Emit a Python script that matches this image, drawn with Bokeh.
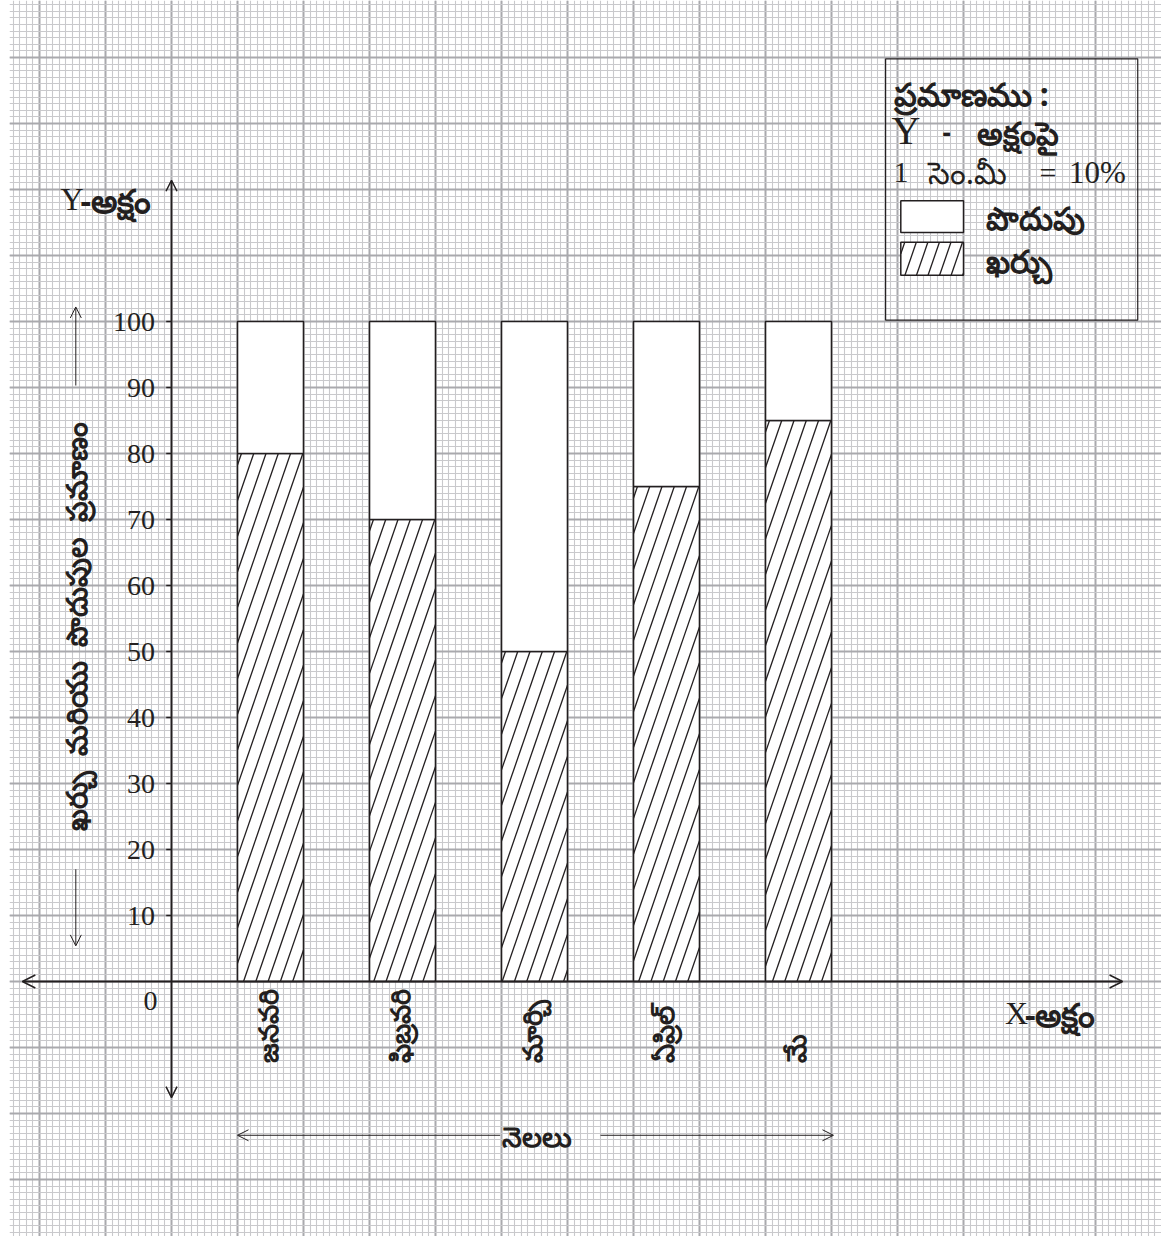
import numpy as np
from bokeh.plotting import figure
from bokeh.models import Range1d, Grid, SingleIntervalTicker, Arrow, OpenHead, ColumnDataSource
from bokeh.core.properties import value
from bokeh.embed import file_html
from bokeh.resources import INLINE

# ---------------- data ----------------
months = ["జనవరి", "ఫిబ్రవరి", "మార్చి", "ఏప్రిల్", "మే"]
expense = [80, 70, 50, 75, 85]      # ఖర్చు (hatched)
savings = [20, 30, 50, 25, 15]      # పొదుపు (white)
y_ticks = [10, 20, 30, 40, 50, 60, 70, 80, 90, 100]
y_title = "ఖర్చు\u2002మరియు\u2002పొదుపుల\u2002ప్రమాణం"
x_title = "నెలలు"
legend_head = "ప్రమాణము :"
legend_axis = "అక్షంపై"
legend_scale = "సెం.మీ"
legend_items = ["పొదుపు", "ఖర్చు"]

INK = "#231f20"
TEL = "Noto Sans"
SERIF = "Liberation Serif"

PX = 6.6                      # pixels per unit (1 mm of graph paper)
LEFT = 9
W, H = 1161, 1236
OX, OY = 171 - LEFT, 981      # origin position inside the frame (px)
xs = -OX / PX
xe = xs + (W - LEFT) / PX
ye = OY / PX
ys = ye - H / PX

p = figure(width=W, height=H, x_range=Range1d(xs, xe), y_range=Range1d(ys, ye),
           output_backend="svg", toolbar_location=None, min_border=0,
           x_axis_type=None, y_axis_type=None)
p.min_border_left = LEFT
p.background_fill_color = "white"
p.border_fill_color = "white"
p.outline_line_color = None

# graph paper
for dim in (0, 1):
    g = Grid(dimension=dim, ticker=SingleIntervalTicker(interval=10, num_minor_ticks=10),
             grid_line_color="#a9a9ad", grid_line_width=2,
             minor_grid_line_color="#c9c9cc", minor_grid_line_width=1.1)
    p.add_layout(g)


def hatch(x0, x1, y0, y1, s=2.9, d=1.86):
    a, b, c_, e = [], [], [], []
    h = y1 - y0
    start = x0 - h / s + 0.6
    for c in np.arange(start, x1, d):
        ya = max(y0, y0 + (x0 - c) * s)
        yb = min(y1, y0 + (x1 - c) * s)
        if yb - ya > 0.05:
            a.append(c + (ya - y0) / s)
            b.append(ya)
            c_.append(c + (yb - y0) / s)
            e.append(yb)
    return a, b, c_, e


# bars
centers = [15 + 20 * i for i in range(len(months))]
src = ColumnDataSource(dict(x=centers, expense=expense, savings=savings))
p.vbar_stack(["expense", "savings"], x="x", width=10, source=src,
             fill_color="white", line_color=INK, line_width=1.6)

hx0, hy0, hx1, hy1 = [], [], [], []
for c, v in zip(centers, expense):
    a, b, cc, e = hatch(c - 5, c + 5, 0, v)
    hx0 += a; hy0 += b; hx1 += cc; hy1 += e

# axes
p.add_layout(Arrow(x_start=-22.6, y_start=0, x_end=144.1, y_end=0,
                   start=OpenHead(size=13, line_width=1.5, line_color=INK),
                   end=OpenHead(size=13, line_width=1.5, line_color=INK),
                   line_color=INK, line_width=1.8))
p.add_layout(Arrow(x_start=0, y_start=-17.6, x_end=0, y_end=121.4,
                   start=OpenHead(size=11, line_width=1.5, line_color=INK),
                   end=OpenHead(size=11, line_width=1.5, line_color=INK),
                   line_color=INK, line_width=1.8))

n = len(y_ticks)
p.segment(x0=[-0.8] * n, y0=y_ticks, x1=[0] * n, y1=y_ticks, line_color=INK, line_width=1.5)
p.text(x=[-2.5] * n, y=y_ticks, text=[str(t) for t in y_ticks], text_align="right",
       text_baseline="middle", text_font=value(SERIF), text_font_size="28px", text_color=INK)
p.text(x=[-3.2], y=[-3.0], text=["0"], text_align="center", text_baseline="middle",
       text_font=value(SERIF), text_font_size="28px", text_color=INK)

# axis names
p.text(x=[-16.8], y=[118.6], text=["Y"], text_align="left", text_baseline="middle",
       text_font=value(SERIF), text_font_size="32px", text_color=INK)
p.text(x=[-13.8], y=[118.4], text=["-అక్షం"], text_align="left", text_baseline="middle",
       text_font=value(TEL), text_font_style="bold", text_font_size="33px", text_color=INK)
p.text(x=[126.3], y=[-4.8], text=["X"], text_align="left", text_baseline="middle",
       text_font=value(SERIF), text_font_size="32px", text_color=INK)
p.text(x=[129.3], y=[-5.0], text=["-అక్షం"], text_align="left", text_baseline="middle",
       text_font=value(TEL), text_font_style="bold", text_font_size="33px", text_color=INK)

# month labels (rotated)
p.text(x=[c - 0.4 for c in centers], y=[-12.3] * len(months), text=months, angle=np.pi / 2,
       text_align="left", text_baseline="middle", text_font=value(TEL),
       text_font_style="bold", text_font_size="27px", text_color=INK)

# x title with arrows
p.text(x=[55.4], y=[-23.4], text=[x_title], text_align="center", text_baseline="middle",
       text_font=value(TEL), text_font_style="bold", text_font_size="28px", text_color=INK)
p.add_layout(Arrow(x_start=49.8, y_start=-23.3, x_end=10, y_end=-23.3,
                   end=OpenHead(size=11, line_width=1, line_color=INK),
                   line_color=INK, line_width=1))
p.add_layout(Arrow(x_start=65, y_start=-23.3, x_end=100.3, y_end=-23.3,
                   end=OpenHead(size=11, line_width=1, line_color=INK),
                   line_color=INK, line_width=1))

# y title with arrows
p.text(x=[-14.5], y=[53.8], text=[y_title], angle=np.pi / 2, text_align="center",
       text_baseline="middle", text_font=value(TEL), text_font_style="bold",
       text_font_size="29px", text_color=INK)
p.add_layout(Arrow(x_start=-14.5, y_start=90.3, x_end=-14.5, y_end=102.2,
                   end=OpenHead(size=11, line_width=1, line_color=INK),
                   line_color=INK, line_width=1))
p.add_layout(Arrow(x_start=-14.5, y_start=17.0, x_end=-14.5, y_end=5.4,
                   end=OpenHead(size=11, line_width=1, line_color=INK),
                   line_color=INK, line_width=1))

# legend box
p.quad(left=[108.2], right=[146.4], bottom=[100.2], top=[139.8], fill_color="white",
       fill_alpha=0.0, line_color=INK, line_width=1.2)
p.text(x=[109.4], y=[134.5], text=[legend_head], text_align="left", text_baseline="middle",
       text_font=value(TEL), text_font_style="bold", text_font_size="32px", text_color=INK)
p.text(x=[109.1], y=[128.9], text=["Y"], text_align="left", text_baseline="middle",
       text_font=value(SERIF), text_font_size="40px", text_color=INK)
p.text(x=[116.8], y=[128.6], text=["-"], text_align="left", text_baseline="middle",
       text_font=value(TEL), text_font_style="bold", text_font_size="26px", text_color=INK)
p.text(x=[122.0], y=[128.6], text=[legend_axis], text_align="left", text_baseline="middle",
       text_font=value(TEL), text_font_style="bold", text_font_size="32px", text_color=INK)
p.text(x=[109.4], y=[122.6], text=["1"], text_align="left", text_baseline="middle",
       text_font=value(SERIF), text_font_size="30px", text_color=INK)
p.text(x=[114.6], y=[122.6], text=[legend_scale], text_align="left", text_baseline="middle",
       text_font=value(TEL), text_font_size="31px", text_color=INK)
p.text(x=[131.5], y=[122.6], text=["="], text_align="left", text_baseline="middle",
       text_font=value(SERIF), text_font_size="30px", text_color=INK)
p.text(x=[136.0], y=[122.6], text=["10%"], text_align="left", text_baseline="middle",
       text_font=value(SERIF), text_font_size="31px", text_color=INK)

# legend swatches
p.quad(left=[110.5], right=[120.0], bottom=[113.5], top=[118.3], fill_color="white",
       line_color=INK, line_width=1.5)
p.quad(left=[110.5], right=[120.0], bottom=[107.0], top=[112.0], fill_color="white",
       line_color=INK, line_width=1.5)
a, b, cc, e = hatch(110.5, 120.0, 107.0, 112.0, s=2.9, d=1.75)
hx0 += a; hy0 += b; hx1 += cc; hy1 += e
p.segment(x0=hx0, y0=hy0, x1=hx1, y1=hy1, line_color=INK, line_width=1.3)

p.text(x=[123.4, 123.4], y=[115.7, 109.3], text=legend_items, text_align="left",
       text_baseline="middle", text_font=value(TEL), text_font_style="bold",
       text_font_size="32px", text_color=INK)

open("out.html", "w").write(file_html(p, INLINE))
